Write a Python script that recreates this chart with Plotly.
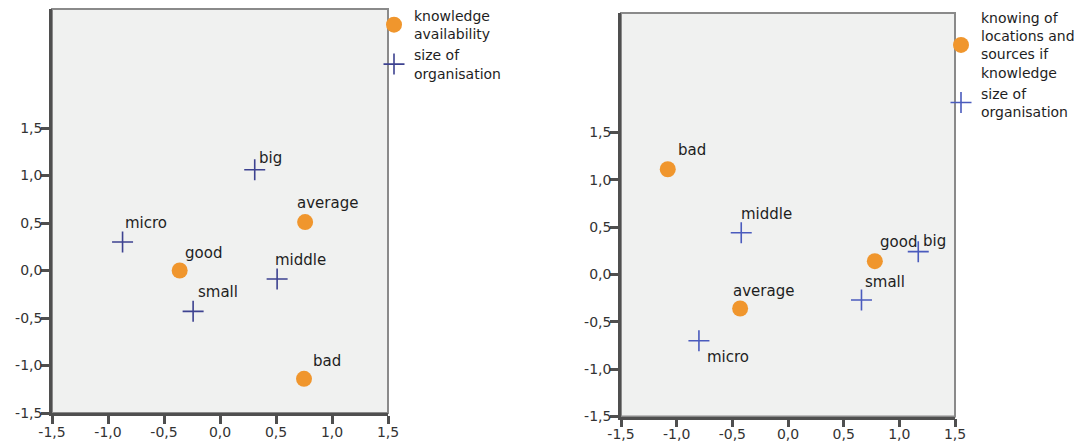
import plotly.graph_objects as go

# ---- data -----------------------------------------------------------------
# Left map: knowledge availability vs size of organisation
avail_labels = ["average", "good", "bad"]
avail_x = [0.76, -0.36, 0.75]
avail_y = [0.51, 0.00, -1.14]

size_left_labels = ["big", "micro", "middle", "small"]
size_left_x = [0.31, -0.87, 0.51, -0.24]
size_left_y = [1.06, 0.30, -0.09, -0.43]

# Right map: knowing of locations and sources of knowledge vs size of organisation
know_labels = ["bad", "average", "good"]
know_x = [-1.08, -0.43, 0.78]
know_y = [1.11, -0.36, 0.14]

size_right_labels = ["middle", "micro", "small", "big"]
size_right_x = [-0.42, -0.80, 0.66, 1.17]
size_right_y = [0.44, -0.70, -0.27, 0.24]

tick_vals = [-1.5, -1.0, -0.5, 0.0, 0.5, 1.0, 1.5]
tick_text = [f"{v:.1f}".replace(".", ",") for v in tick_vals]

# ---- label placement (pixel offsets from each point) ------------------------
avail_off = [(-10, 19), (3, 18), (7, 18)]
size_left_off = [(2, 12), (0, 19), (-4, 19), (3, 19)]
know_off = [(8, 19), (-9, 18), (3, 19)]
size_right_off = [(-2, 19), (6, -16), (2, 18), (3, 11)]

# ---- style -----------------------------------------------------------------
ORANGE = "#f0962d"
NAVY_L = "#3d4290"
NAVY_R = "#4a5bbd"
FONT = "DejaVu Sans"
TEXT = "#1e1e1e"
AXIS = "#4f4f4f"
FRAME = "#8a8a8a"

W, H = 1087, 443

fig = go.Figure()


def add_points(x, y, name, axes, legend, kind, color):
    xa, ya = axes
    if kind == "circle":
        marker = dict(symbol="circle", size=16, color=color, line=dict(width=0))
    else:
        marker = dict(symbol="cross-thin", size=15, color=color,
                      line=dict(width=1.6, color=color))
    fig.add_trace(go.Scatter(
        x=x, y=y, mode="markers", name=name, marker=marker,
        xaxis=xa, yaxis=ya, legend=legend, cliponaxis=False,
        hoverinfo="skip",
    ))


def add_labels(x, y, labels, offsets, axes):
    xa, ya = axes
    for xv, yv, lab, (dx, dy) in zip(x, y, labels, offsets):
        fig.add_annotation(
            x=xv, y=yv, xref=xa, yref=ya, text=lab, showarrow=False,
            xanchor="left", yanchor="middle", xshift=dx, yshift=dy,
            font=dict(family=FONT, size=15, color=TEXT),
        )


add_points(avail_x, avail_y, "knowledge<br>availability", ("x", "y"), "legend",
           "circle", ORANGE)
add_points(size_left_x, size_left_y, "size of<br>organisation", ("x", "y"), "legend",
           "cross", NAVY_L)
add_points(know_x, know_y, "knowing of<br>locations and<br>sources if<br>knowledge",
           ("x2", "y2"), "legend2", "circle", ORANGE)
add_points(size_right_x, size_right_y, "size of<br>organisation", ("x2", "y2"),
           "legend2", "cross", NAVY_R)

add_labels(avail_x, avail_y, avail_labels, avail_off, ("x", "y"))
add_labels(size_left_x, size_left_y, size_left_labels, size_left_off, ("x", "y"))
add_labels(know_x, know_y, know_labels, know_off, ("x2", "y2"))
add_labels(size_right_x, size_right_y, size_right_labels, size_right_off, ("x2", "y2"))

# panel frames (top/right edges lighter than the axis lines)
for xa, ya in (("x", "y"), ("x2", "y2")):
    fig.add_shape(type="rect", xref=f"{xa} domain", yref=f"{ya} domain",
                  x0=0, x1=1, y0=0, y1=1, line=dict(color=FRAME, width=2),
                  layer="below")

axis_common = dict(
    tickmode="array", tickvals=tick_vals, ticktext=tick_text,
    ticks="outside", ticklen=8, tickwidth=2.5, tickcolor=AXIS,
    showline=True, linecolor=AXIS, linewidth=2.5,
    showgrid=False, zeroline=False, fixedrange=True, automargin=False,
    tickfont=dict(family=FONT, size=14, color="#333333"),
)


def px_x(a, b):
    return [a / W, b / W]


def px_y(top, bottom):
    return [(H - bottom) / H, (H - top) / H]


fig.update_layout(
    width=W, height=H,
    margin=dict(l=0, r=0, t=0, b=0, autoexpand=False),
    paper_bgcolor="white", plot_bgcolor="#f0f1f0",
    font=dict(family=FONT, color=TEXT),
    xaxis=dict(domain=px_x(52, 388), range=[-1.5, 1.5], anchor="y",
               ticklabelstandoff=-4, **axis_common),
    yaxis=dict(domain=px_y(9, 413), range=[-1.5, 2.7526], anchor="x",
               ticklabelstandoff=-4, **axis_common),
    xaxis2=dict(domain=px_x(621, 955), range=[-1.5, 1.5], anchor="y2",
                ticklabelstandoff=-5, **axis_common),
    yaxis2=dict(domain=px_y(13, 416.5), range=[-1.5, 2.7594], anchor="x2",
                ticklabelstandoff=-4, **axis_common),
    legend=dict(x=374 / W, y=1, xanchor="left", yanchor="top",
                bgcolor="rgba(0,0,0,0)", font=dict(family=FONT, size=14, color=TEXT),
                itemwidth=30, tracegroupgap=0),
    legend2=dict(x=941 / W, y=1 - 2 / H, xanchor="left", yanchor="top",
                 bgcolor="rgba(0,0,0,0)", font=dict(family=FONT, size=14, color=TEXT),
                 itemwidth=30, tracegroupgap=0),
    showlegend=True,
)

fig.write_html("out.html")
